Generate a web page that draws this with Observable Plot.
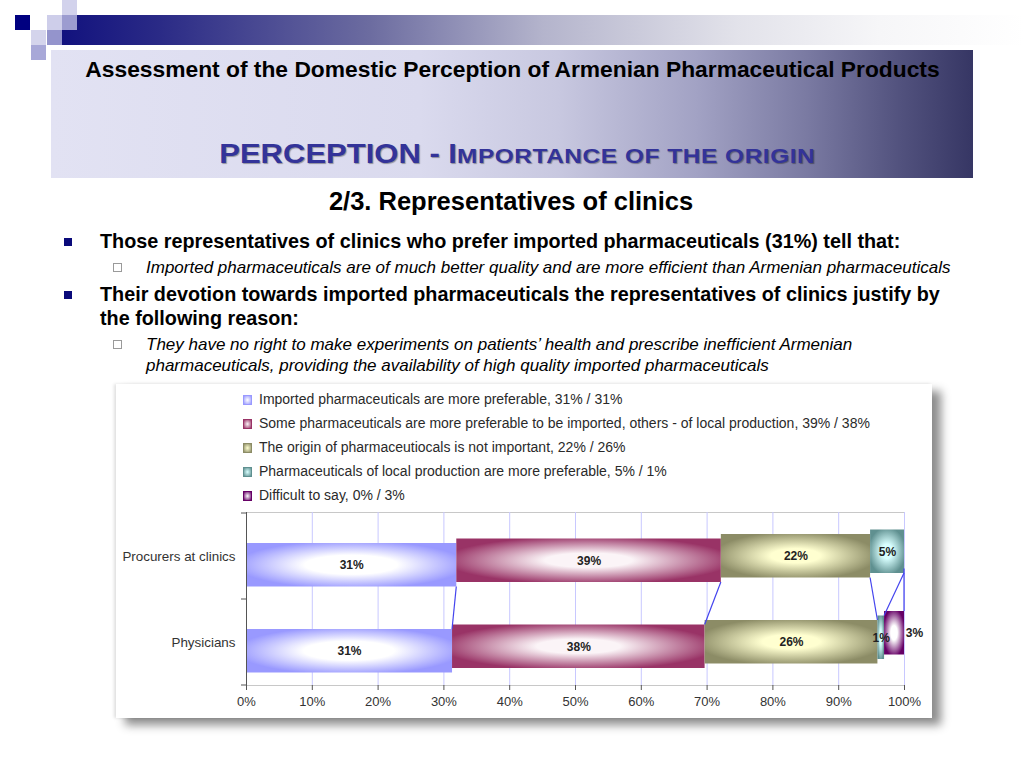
<!DOCTYPE html>
<html>
<head>
<meta charset="utf-8">
<script src="https://cdn.jsdelivr.net/npm/d3@7"></script>
<script src="https://cdn.jsdelivr.net/npm/@observablehq/plot@0.6"></script>
<style>
  html, body { margin: 0; padding: 0; background: #ffffff; }
  body { width: 1024px; height: 768px; position: relative; overflow: hidden; font-family: "Liberation Sans", Arial, sans-serif; }
  .abs { position: absolute; white-space: nowrap; line-height: 1; }
  .sq { position: absolute; width: 15px; height: 15px; }
  #band { position: absolute; left: 62px; top: 15px; width: 962px; height: 30px;
    background: linear-gradient(to right, #12127e 0%, #2a2a86 10%, #6c6ca0 32%, #b4b4cc 50%, #e2e2ea 70%, #f6f6f8 85%, #ffffff 100%); }
  #titlebox { position: absolute; left: 51px; top: 50px; width: 922px; height: 128px;
    background: linear-gradient(to right, #e2e2f3 0%, #dadaee 40%, #c8c8e0 55%, #a2a2c4 70%, #7a7aa2 82%, #52527e 92%, #363664 100%); }
  .title1 { left: 0; width: 1025px; text-align: center; top: 58.4px; font-size: 22.8px; font-weight: bold; color: #000; }
  .title2 { left: 0; width: 1035px; text-align: center; top: 137px; font-size: 31px; font-weight: bold; color: #333399;
    text-shadow: 1px 1px 1px rgba(0,0,0,0.35); transform: scaleY(0.92); transform-origin: center 26px; }
  .title2 .sc { font-size: 22px; display: inline-block; transform: scaleX(1.11); transform-origin: left center; letter-spacing: 0.5px; margin-right: 36px; }
  .sub { left: 0; width: 1022px; text-align: center; top: 189.4px; font-size: 25.5px; font-weight: bold; color: #000; }
  .b1 { font-size: 19.8px; font-weight: bold; color: #000; left: 100px; }
  .b2 { font-size: 17px; font-style: italic; color: #000; left: 146px; }
  .bullet { position: absolute; width: 8px; height: 8px; background: #0a0a7a; left: 64px; }
  .hollow { position: absolute; width: 7px; height: 7px; border: 1px solid #9a9a9a; left: 113px; }
  #chartbox { position: absolute; left: 116px; top: 384px; width: 816px; height: 334px; background: #ffffff;
    box-shadow: 9px 7px 9px rgba(0,0,0,0.45), -2px 0 3px rgba(0,0,0,0.12); }
  .leg { position: absolute; left: 143px; font-size: 14px; color: #2a2a2a; white-space: nowrap; }
  .sw { position: absolute; width: 7px; height: 8px; border: 1px solid; left: -16px; top: 4px; }
  #plot { position: absolute; left: 0; top: 121px; }
</style>
</head>
<body>
<div class="sq" style="left:62px;top:0;background:#d2d2ec"></div>
<div class="sq" style="left:15px;top:15px;background:#000080"></div>
<div class="sq" style="left:47px;top:15px;background:#ceceea"></div>
<div class="sq" style="left:31px;top:30px;background:#d4d4ec"></div>
<div class="sq" style="left:47px;top:30px;background:#9494cc"></div>
<div class="sq" style="left:31px;top:45px;background:#a8a8d8"></div>
<div id="band"></div>
<div class="sq" style="left:62px;top:15px;background:#9c9cd0"></div>
<div id="titlebox"></div>
<div class="abs title1">Assessment of the Domestic Perception of Armenian Pharmaceutical Products</div>
<div class="abs title2">PERCEPTION - I<span class="sc">MPORTANCE OF THE ORIGIN</span></div>
<div class="abs sub">2/3. Representatives of clinics</div>

<div class="bullet" style="top:238px"></div>
<div class="abs b1" style="top:231.9px">Those representatives of clinics who prefer imported pharmaceuticals (31%) tell that:</div>
<div class="hollow" style="top:263px"></div>
<div class="abs b2" style="top:258.6px">Imported pharmaceuticals are of much better quality and are more efficient than Armenian pharmaceuticals</div>
<div class="bullet" style="top:291px"></div>
<div class="abs b1" style="top:284.7px">Their devotion towards imported pharmaceuticals the representatives of clinics justify by</div>
<div class="abs b1" style="top:308.7px">the following reason:</div>
<div class="hollow" style="top:340px"></div>
<div class="abs b2" style="top:335.6px">They have no right to make experiments on patients’ health and prescribe inefficient Armenian</div>
<div class="abs b2" style="top:356.6px">pharmaceuticals, providing the availability of high quality imported pharmaceuticals</div>

<div id="chartbox">
  <div id="legend"></div>
  <div id="plot"></div>
</div>

<script>
// ---- data ----
const categories = ["Procurers at clinics", "Physicians"];
const seriesNames = [
  "Imported pharmaceuticals are more preferable",
  "Some pharmaceuticals are more preferable to be imported, others - of local production",
  "The origin of pharmaceutiocals is not important",
  "Pharmaceuticals of local production are more preferable",
  "Difficult to say"
];
const procurersValues = [31, 39, 22, 5, 0];
const physiciansValues = [31, 38, 26, 1, 3];
const xTicks = [0, 10, 20, 30, 40, 50, 60, 70, 80, 90, 100];

// ---- styles ----
const edgeColors = ["#9999ff", "#993366", "#8c8c66", "#5f9090", "#660066"];
const centerColors = ["#ffffff", "#fbf4f7", "#ffffd0", "#d8ffff", "#ffffff"];

// ---- derived rows (stacked, normalized to 100%) ----
const valuesByCat = [procurersValues, physiciansValues];
const rows = [];
categories.forEach((cat, ci) => {
  const vals = valuesByCat[ci];
  const total = d3.sum(vals);
  let acc = 0;
  vals.forEach((v, si) => {
    rows.push({cat, si, series: seriesNames[si], value: v, x1: acc / total * 100, x2: (acc + v) / total * 100});
    acc += v;
  });
});

// ---- legend ----
const legend = document.getElementById("legend");
seriesNames.forEach((name, i) => {
  const d = document.createElement("div");
  d.className = "leg";
  d.style.top = (7 + i * 24) + "px";
  d.textContent = `${name}, ${procurersValues[i]}% / ${physiciansValues[i]}%`;
  const sw = document.createElement("span");
  sw.className = "sw";
  sw.style.borderColor = edgeColors[i];
  sw.style.background = `radial-gradient(${centerColors[i]}, ${edgeColors[i]})`;
  d.appendChild(sw);
  legend.appendChild(d);
});

// ---- chart ----
const shift = 4.5;
const barInsetTop = 30, barInsetBottom = 12.5;

function defsMark() {
  const defs = d3.create("svg:defs");
  edgeColors.forEach((c, i) => {
    const g = defs.append("radialGradient").attr("id", "grad" + i)
      .attr("cx", 0.5).attr("cy", 0.5).attr("r", 0.55);
    g.append("stop").attr("offset", 0).attr("stop-color", centerColors[i]);
    g.append("stop").attr("offset", i === 0 ? 0.4 : 0.3).attr("stop-color", centerColors[i]);
    g.append("stop").attr("offset", 1).attr("stop-color", c);
  });
  return defs.node();
}

function boundaryTicks(index, scales, values, dimensions) {
  const y = scales.y, x = scales.x;
  const y0 = y(categories[0]), y1 = y(categories[1]);
  const step = y1 - y0;
  const g = d3.create("svg:g").attr("stroke", "#555").attr("stroke-width", 1);
  [y0, y1, y1 + step].forEach(p => {
    g.append("line").attr("x1", x(0) - 5).attr("x2", x(0)).attr("y1", p).attr("y2", p);
  });
  return g.node();
}

function seriesLines(index, scales, values, dimensions) {
  const y = scales.y, x = scales.x;
  const y0 = y(categories[0]), y1 = y(categories[1]);
  const step = y1 - y0;
  const g = d3.create("svg:g").attr("stroke", "#4444ee").attr("stroke-width", 1.2).attr("fill", "none");
  seriesNames.forEach((s, si) => {
    const a = rows.find(r => r.cat === categories[0] && r.si === si);
    const b = rows.find(r => r.cat === categories[1] && r.si === si);
    g.append("line")
      .attr("x1", x(a.x2)).attr("y1", y0 + step - barInsetBottom - shift * si)
      .attr("x2", x(b.x2)).attr("y2", y1 + barInsetTop - shift * si);
  });
  return g.node();
}

const barMarks = seriesNames.map((s, si) =>
  Plot.barX(rows.filter(r => r.si === si && r.value > 0), {
    x1: "x1", x2: "x2", y: "cat",
    fill: `url(#grad${si})`,
    insetTop: barInsetTop, insetBottom: barInsetBottom, dy: -shift * si
  })
);

const labelMarks = seriesNames.map((s, si) =>
  Plot.text(rows.filter(r => r.si === si && r.value > 0), {
    x: d => (d.x1 + d.x2) / 2, y: "cat",
    text: d => d.value + "%",
    dy: (barInsetTop - barInsetBottom) / 2 - shift * si,
    dx: si === 4 ? 20 : 0,
    fill: "#222", fontWeight: "bold", fontSize: 12
  })
);

const chart = Plot.plot({
  width: 816,
  height: 213,
  marginLeft: 130,
  marginRight: 28,
  marginTop: 7,
  marginBottom: 33,
  style: {fontFamily: "Liberation Sans, Arial, sans-serif", fontSize: "12px", color: "#333", background: "transparent", overflow: "visible"},
  x: {domain: [0, 100], ticks: xTicks, tickFormat: d => d + "%"},
  y: {domain: categories, padding: 0},
  marks: [
    defsMark,
    Plot.frame({stroke: "#c8c8c8"}),
    Plot.gridX(xTicks.slice(1), {stroke: "#c8c8ff", strokeOpacity: 1}),
    ...barMarks,
    seriesLines,
    ...labelMarks,
    Plot.axisX(xTicks, {tickSize: 5, tickPadding: 6, stroke: "#555", fill: "#333", fontSize: 13, letterSpacing: "0.9px", tickFormat: d => d + "%", label: null}),
    Plot.axisY({tickSize: 0, tickPadding: 11, fill: "#333", fontSize: 13.4, label: null}),
    Plot.ruleX([0], {stroke: "#555"}),
    boundaryTicks
  ]
});
document.getElementById("plot").appendChild(chart);
</script>
</body>
</html>
